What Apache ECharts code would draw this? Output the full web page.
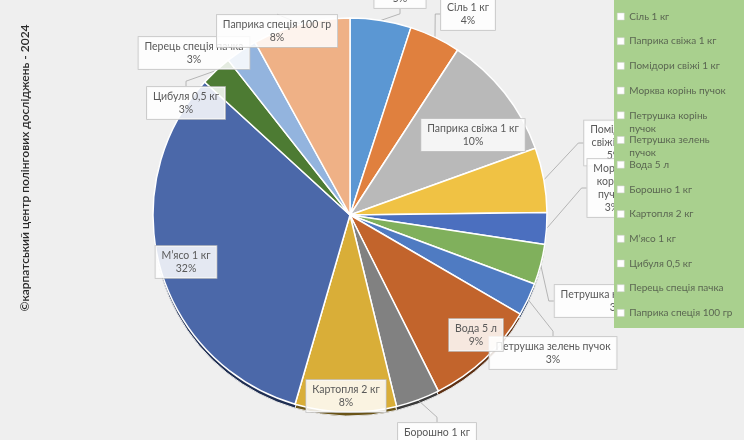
<!DOCTYPE html>
<html><head><meta charset="utf-8">
<script src="https://cdn.jsdelivr.net/npm/echarts@6/dist/echarts.min.js"></script>
<style>html,body{margin:0;padding:0;background:#efefef}#c{width:744px;height:440px}</style>
</head><body><div id="c"></div>
<script>
// ---- data ----
const categories = ['Олія 1 л', 'Сіль 1 кг', 'Паприка свіжа 1 кг', 'Помідори свіжі 1 кг', 'Морква корінь пучок',
  'Петрушка корінь пучок', 'Петрушка зелень пучок', 'Вода 5 л', 'Борошно 1 кг', 'Картопля 2 кг',
  'М’ясо 1 кг', 'Цибуля 0,5 кг', 'Перець спеція пачка', 'Паприка спеція 100 гр'];
const values = [5.0, 4.2, 10.3, 5.3, 2.6, 3.3, 2.7, 9.2, 3.6, 8.3, 32.3, 2.6, 2.6, 8.0];
const watermark = '©карпатський центр полінгових досліджень - 2024';

// ---- styles ----
const colors = ['#5b97d3', '#e0803e', '#b9b9b9', '#f0c244', '#4b6fbf', '#80b05c', '#4f7bc2',
  '#c2642c', '#818181', '#d9ae38', '#4b68a9', '#4d7b33', '#93b4de', '#efb186'];
const rimColors = ['#2c4a68', '#6e3d1d', '#5a5a5a', '#76601f', '#233560', '#3d552c', '#263c60',
  '#5e3013', '#3a3a3a', '#6a5418', '#1f2e52', '#243a17', '#46586e', '#755640'];
const labelPos = [[400, -8], [468, 14], [473, 135], [614, 143], [612, 188], [617, 301], [553, 353],
  [476, 335], [437, 439], [346, 396], [186, 262], [186, 103], [194, 53], [277, 31]];
// 0 = one line, 1 = break at first space, 2 = break at every space
const labelWrap = [0, 0, 0, 1, 2, 0, 0, 0, 0, 0, 0, 0, 0, 0];
const insideLabel = [false, false, true, false, false, false, false, true, false, true, true, false, false, false];
// legend split: two-line entries sit alone so they do not push the rows below
const legendGroups = [[0, 5], [5, 6], [6, 7], [7, 14]];
const legendTwoLine = [false, true, true, false];
const ROW0 = -8.2, ROW_STEP = 24.7;

const FONT = 'Lato, "Noto Sans", sans-serif';
const chart = echarts.init(document.getElementById('c'), null, {renderer: 'canvas'});

function wrapName(name, mode) {
  if (mode === 1) return name.replace(' ', '\n');
  if (mode === 2) return name.split(' ').join('\n');
  return name;
}

const mainData = categories.map((n, i) => ({
  name: n, value: values[i], itemStyle: {color: colors[i]},
  labelLine: {show: !insideLabel[i]}
}));
const rimData = categories.map((n, i) => ({name: n, value: values[i], itemStyle: {color: rimColors[i]}}));

const legends = legendGroups.map((g, k) => {
  const two = legendTwoLine[k];
  const centre = ROW0 + ROW_STEP * g[0];
  return {
    orient: 'vertical',
    left: 617,
    top: centre - (two ? 19.5 : 6.5),
    padding: 0,
    icon: 'rect',
    itemWidth: 7,
    itemHeight: 7,
    itemGap: ROW_STEP - 13,
    data: categories.slice(g[0], g[1]),
    selectedMode: false,
    itemStyle: {color: '#ffffff', borderColor: '#d0d0d0', borderWidth: 0.5},
    formatter: function (name) {
      // empty first line keeps the first text line level with the icon
      return two ? '\n' + name.replace(/ (\S+)$/, '\n$1') : name;
    },
    textStyle: {color: '#5b6752', fontSize: 10, fontFamily: FONT, lineHeight: 13},
    z: 5
  };
});

chart.setOption({
  backgroundColor: '#efefef',
  animation: false,
  legend: legends,
  graphic: [{
    type: 'rect', z: 3,
    shape: {x: 614, y: -5, width: 140, height: 333},
    style: {fill: '#a9d08e'}
  }, {
    type: 'text',
    x: 25, y: 168,
    rotation: Math.PI / 2,
    style: {text: watermark, fill: '#2a2a2a', font: '600 12px ' + FONT, align: 'center', verticalAlign: 'middle'}
  }],
  series: [{
    type: 'pie',
    z: 1,
    silent: true,
    center: [350, 219],
    radius: 197,
    startAngle: 90,
    clockwise: true,
    label: {show: false},
    labelLine: {show: false},
    itemStyle: {borderColor: '#e8e8e8', borderWidth: 1},
    data: rimData
  }, {
    type: 'pie',
    z: 2,
    center: [350, 215],
    radius: 197,
    startAngle: 90,
    clockwise: true,
    avoidLabelOverlap: false,
    itemStyle: {borderColor: '#ffffff', borderWidth: 1.5},
    label: {
      show: true,
      position: 'outside',
      formatter: function (p) {
        return wrapName(p.name, labelWrap[p.dataIndex]) + '\n' + Math.round(p.percent) + '%';
      },
      color: '#595959',
      fontSize: 10.5,
      fontFamily: FONT,
      lineHeight: 13,
      align: 'center',
      backgroundColor: 'rgba(255,255,255,0.85)',
      borderColor: '#c4c4c4',
      borderWidth: 0.8,
      padding: [3, 6]
    },
    labelLine: {show: true, lineStyle: {color: '#a6a6a6', width: 0.8}, length: 5, length2: 5},
    labelLayout: function (p) {
      const pos = labelPos[p.dataIndex];
      return {x: pos[0], y: pos[1], align: 'center', verticalAlign: 'middle'};
    },
    data: mainData
  }]
});
</script>
</body></html>
